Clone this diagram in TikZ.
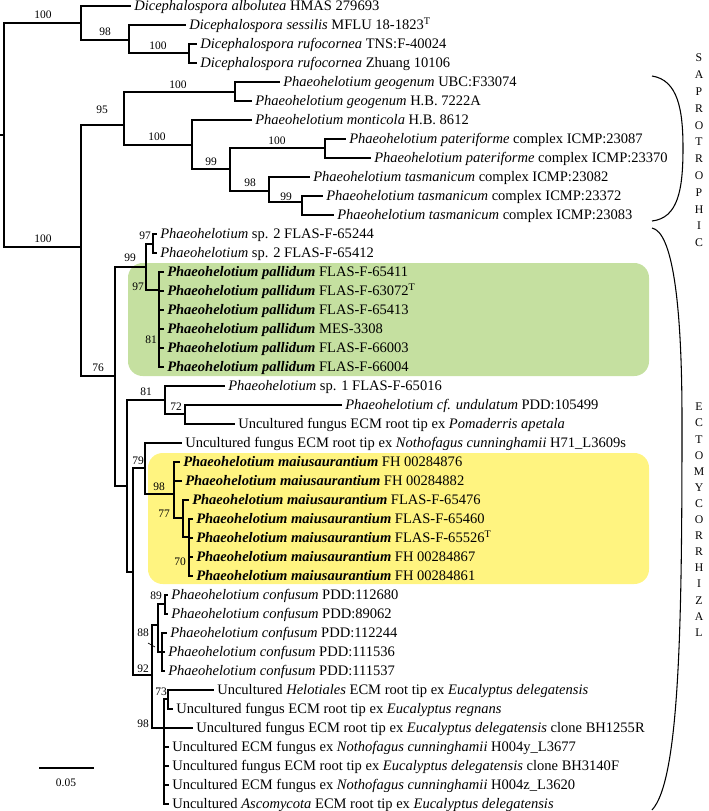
\documentclass[tikz,border=0pt]{standalone}
\usepackage{fontspec}
\setmainfont{Liberation Serif}
\definecolor{gbox}{RGB}{197,224,160}
\definecolor{ybox}{RGB}{255,244,128}
\newcommand\leafrow[4]{%
  \pgfmathsetmacro\yy{6+19*#1}%
  \coordinate (n#1) at (#2,\yy);%
  \node[leaf] (l#1) at (#3-4,\yy+4.6) {#4};%
  \draw[br] (n#1) -- (l#1.base west |- n#1);}
\newcommand\Ppal{\textbf{\textit{Phaeohelotium pallidum}}}
\newcommand\Pmai{\textbf{\textit{Phaeohelotium maiusaurantium}}}
\begin{document}
\begin{tikzpicture}[x=0.75pt,y=-0.75pt,
  br/.style={line width=0.9pt, line cap=rect},
  leaf/.style={anchor=base west, inner xsep=3pt, inner ysep=0pt, font=\fontsize{10.9}{12}\selectfont},
  bs/.style={inner sep=0pt, font=\fontsize{8.6}{10}\selectfont},
  lt/.style={inner sep=0pt, font=\fontsize{8.8}{10}\selectfont},
  brk/.style={line width=0.8pt}]
\useasboundingbox (0,0) rectangle (709,811);
% highlight boxes
\fill[gbox, rounded corners=11pt] (128,263) rectangle (649,376);
\fill[ybox, rounded corners=11pt] (148,453) rectangle (649,584);
% root
\draw[br] (0,135) -- (4,135);
\draw[br] (4,23) -- (4,247);
% Dicephalospora
\draw[br] (4,23) -- (81,23); \draw[br] (81,6) -- (81,40);
\leafrow{0}{81}{134}{\textit{Dicephalospora albolutea} HMAS 279693}
\draw[br] (81,40) -- (129,40); \draw[br] (129,25) -- (129,53);
\leafrow{1}{129}{189}{\textit{Dicephalospora sessilis} MFLU 18-1823\textsuperscript{T}}
\draw[br] (129,53) -- (189,53); \draw[br] (189,44) -- (189,63);
\leafrow{2}{189}{200}{\textit{Dicephalospora rufocornea} TNS:F-40024}
\leafrow{3}{189}{200}{\textit{Dicephalospora rufocornea} Zhuang 10106}
% Phaeohelotium
\draw[br] (4,247) -- (81,247); \draw[br] (81,125) -- (81,376);
\draw[br] (81,125) -- (124,125); \draw[br] (124,92) -- (124,145);
\draw[br] (124,92) -- (235,92); \draw[br] (235,82) -- (235,101);
\leafrow{4}{235}{283}{\textit{Phaeohelotium geogenum} UBC:F33074}
\leafrow{5}{235}{255}{\textit{Phaeohelotium geogenum} H.B. 7222A}
\draw[br] (124,145) -- (192,145); \draw[br] (192,120) -- (192,169);
\leafrow{6}{192}{255}{\textit{Phaeohelotium monticola} H.B. 8612}
\draw[br] (192,169) -- (230,169); \draw[br] (230,148) -- (230,191);
\draw[br] (230,148) -- (325,148); \draw[br] (325,139) -- (325,158);
\leafrow{7}{325}{349}{\textit{Phaeohelotium pateriforme} complex ICMP:23087}
\leafrow{8}{325}{374}{\textit{Phaeohelotium pateriforme} complex ICMP:23370}
\draw[br] (230,191) -- (269,191); \draw[br] (269,177) -- (269,202);
\leafrow{9}{269}{313}{\textit{Phaeohelotium tasmanicum} complex ICMP:23082}
\draw[br] (269,202) -- (302,202); \draw[br] (302,196) -- (302,215);
\leafrow{10}{302}{326}{\textit{Phaeohelotium tasmanicum} complex ICMP:23372}
\leafrow{11}{302}{337}{\textit{Phaeohelotium tasmanicum} complex ICMP:23083}
% ectomycorrhizal
\draw[br] (81,376) -- (115,376); \draw[br] (115,267) -- (115,486);
\draw[br] (115,267) -- (146,267); \draw[br] (146,244) -- (146,290);
\draw[br] (146,244) -- (153,244); \draw[br] (153,234) -- (153,253);
\leafrow{12}{153}{160}{\textit{Phaeohelotium} sp. 2 FLAS-F-65244}
\leafrow{13}{153}{160}{\textit{Phaeohelotium} sp. 2 FLAS-F-65412}
\draw[br] (146,290) -- (159,290); \draw[br] (159,272) -- (159,367);
\draw[line width=2.2pt] (159,331) -- (159,345);
\leafrow{14}{159}{167}{\Ppal{} FLAS-F-65411}
\leafrow{15}{159}{167}{\Ppal{} FLAS-F-63072\textsuperscript{T}}
\leafrow{16}{159}{167}{\Ppal{} FLAS-F-65413}
\leafrow{17}{159}{167}{\Ppal{} MES-3308}
\leafrow{18}{159}{167}{\Ppal{} FLAS-F-66003}
\leafrow{19}{159}{167}{\Ppal{} FLAS-F-66004}
\draw[br] (115,486) -- (127,486); \draw[br] (127,400) -- (127,572);
\draw[br] (127,400) -- (165,400); \draw[br] (165,386) -- (165,414);
\leafrow{20}{165}{228}{\textit{Phaeohelotium} sp. 1 FLAS-F-65016}
\draw[br] (165,414) -- (185,414); \draw[br] (185,405) -- (185,424);
\leafrow{21}{185}{345}{\textit{Phaeohelotium cf. undulatum} PDD:105499}
\leafrow{22}{185}{238}{Uncultured fungus ECM root tip ex \textit{Pomaderris apetala}}
\draw[br] (127,572) -- (133,572); \draw[br] (133,468) -- (133,675);
\draw[br] (133,468) -- (145,468); \draw[br] (145,443) -- (145,494);
\leafrow{23}{145}{185}{Uncultured fungus ECM root tip ex \textit{Nothofagus cunninghamii} H71\_L3609s}
\draw[br] (145,494) -- (174,494); \draw[br] (174,462) -- (174,518);
\leafrow{24}{174}{183}{\Pmai{} FH 00284876}
\leafrow{25}{174}{185}{\Pmai{} FH 00284882}
\draw[br] (174,518) -- (183,518); \draw[br] (183,500) -- (183,537);
\leafrow{26}{183}{192}{\Pmai{} FLAS-F-65476}
\draw[br] (183,537) -- (189,537); \draw[br] (189,519) -- (189,576);
\draw[line width=2.2pt] (189,555) -- (189,567);
\leafrow{27}{189}{196}{\Pmai{} FLAS-F-65460}
\leafrow{28}{189}{196}{\Pmai{} FLAS-F-65526\textsuperscript{T}}
\leafrow{29}{189}{196}{\Pmai{} FH 00284867}
\leafrow{30}{189}{196}{\Pmai{} FH 00284861}
\draw[br] (133,675) -- (152,675); \draw[br] (152,625) -- (152,728);
\draw[br] (152,625) -- (158,625); \draw[br] (158,604) -- (158,652);
\draw[br] (158,604) -- (165,604); \draw[br] (165,595) -- (165,614);
\leafrow{31}{165}{171}{\textit{Phaeohelotium confusum} PDD:112680}
\leafrow{32}{165}{171}{\textit{Phaeohelotium confusum} PDD:89062}
\draw[br] (158,652) -- (162,652); \draw[br] (162,633) -- (162,671);
\leafrow{33}{162}{170}{\textit{Phaeohelotium confusum} PDD:112244}
\leafrow{34}{162}{168}{\textit{Phaeohelotium confusum} PDD:111536}
\leafrow{35}{162}{168}{\textit{Phaeohelotium confusum} PDD:111537}
\draw[br] (152,728) -- (164,728); \draw[br] (164,699) -- (164,804);
\draw[br] (164,699) -- (168,699); \draw[br] (168,690) -- (168,709);
\leafrow{36}{168}{217}{Uncultured \textit{Helotiales} ECM root tip ex \textit{Eucalyptus delegatensis}}
\leafrow{37}{168}{176}{Uncultured fungus ECM root tip ex \textit{Eucalyptus regnans}}
\leafrow{38}{164}{196}{Uncultured fungus ECM root tip ex \textit{Eucalyptus delegatensis} clone BH1255R}
\leafrow{39}{164}{172}{Uncultured ECM fungus ex \textit{Nothofagus cunninghamii} H004y\_L3677}
\leafrow{40}{164}{172}{Uncultured fungus ECM root tip ex \textit{Eucalyptus delegatensis} clone BH3140F}
\leafrow{41}{164}{172}{Uncultured ECM fungus ex \textit{Nothofagus cunninghamii} H004z\_L3620}
\leafrow{42}{164}{172}{Uncultured \textit{Ascomycota} ECM root tip ex \textit{Eucalyptus delegatensis}}
% support values
\node[bs] (s1) at (43,15) {100};
\node[bs] (s2) at (105,32) {98};
\node[bs] (s3) at (158,46) {100};
\node[bs] (s4) at (178,85) {100};
\node[bs] (s5) at (102,110) {95};
\node[bs] (s6) at (157,137) {100};
\node[bs] (s7) at (277,141) {100};
\node[bs] (s8) at (211,162) {99};
\node[bs] (s9) at (250,183) {98};
\node[bs] (s10) at (286,197) {99};
\node[bs] (s11) at (43,239) {100};
\node[bs] (s12) at (145,236) {97};
\node[bs] (s13) at (130,258) {99};
\node[bs] (s14) at (138,287) {97};
\node[bs] (s15) at (151,340) {81};
\node[bs] (s16) at (98,368) {76};
\node[bs] (s17) at (146,392) {81};
\node[bs] (s18) at (176,407) {72};
\node[bs] (s19) at (138,461) {79};
\node[bs] (s20) at (159,487) {98};
\node[bs] (s21) at (164,514) {77};
\node[bs] (s22) at (180,562) {70};
\node[bs] (s23) at (156,596) {89};
\node[bs] (s24) at (143,633) {88};
\node[bs] (s25) at (143,669) {92};
\node[bs] (s26) at (161,692) {73};
\node[bs] (s27) at (143,724) {98};
\coordinate (t88) at (155,647);
\draw[line width=0.5pt] (148,643) -- (t88);
% scale bar
\coordinate (sb1) at (40,768); \coordinate (sb2) at (93,768);
\draw[br] (sb1) -- (sb2);
\node[bs] (sbl) at (66,783) {0.05};
% brackets
\draw[brk] (652,76) .. controls (678,80) and (683,110) .. (683,148)
  .. controls (683,190) and (678,218) .. (652,221);
\draw[brk] (652,228) .. controls (672,232) and (682,300) .. (682,420)
  .. controls (682,620) and (680,780) .. (652,810);
\foreach \c [count=\i from 0] in {S,A,P,R,O,T,R,O,P,H,I,C}
  \node[lt] (sa\i) at (699,58+16.8*\i) {\c};
\foreach \c [count=\i from 0] in {E,C,T,O,M,Y,C,O,R,R,H,I,Z,A,L}
  \node[lt] (ec\i) at (699,407+16.1*\i) {\c};
\end{tikzpicture}
\end{document}
